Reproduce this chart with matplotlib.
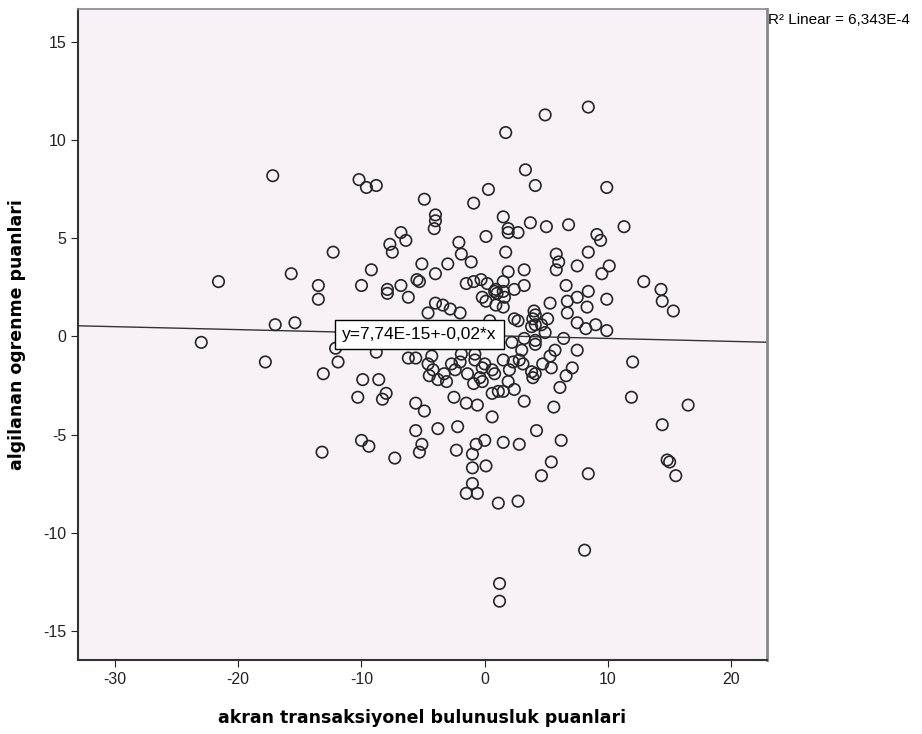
import matplotlib
matplotlib.use('Agg')
import matplotlib.pyplot as plt
import numpy as np

plt.rcParams['font.family'] = ['Liberation Sans', 'DejaVu Sans']
plt.rcParams['axes.unicode_minus'] = False

# akran transaksiyonel bulunusluk puanlari (x)
akran = [8.4, 4.9, 1.7, 3.3, 4.1, 0.3, -0.9, -4.9, -10.2, -9.6, -8.8, -17.2, 9.9,
         -4.0, -4.0, -4.1, 1.5, 1.9, 1.9, 2.7, 3.7, 0.1, -2.1, -1.9, -1.1, 1.7, 1.9, 3.2,
         -6.8, -6.4, -7.7, -7.5, -12.3, -9.2, -5.1, -3.0, -4.0, -5.5, -5.3, -1.5, -0.9,
         -0.3, 1.5, -13.5, -10.0, -6.8, 3.2, 0.9, 2.4, -7.9, 5.0, 6.8, 9.1, 9.4, 11.3,
         5.8, 6.0, 5.8, 7.5, 8.4, 10.1, 9.5, 12.9, 14.3, 6.6, 8.4, -21.6, -15.7, -17.0,
         -15.4, -23.0, -17.8,
         7.5, 9.9, 6.7, 5.3, 8.3, 6.7, 5.1, 7.5, 8.2, 9.0, 9.9, 4.9, 6.4, 4.1, 4.1, 14.4,
         15.3, 7.5, 5.7, 5.3, 4.7, 5.4, 7.1, 6.6, 6.1, 12.0, 11.9, 16.5, 5.6, 14.4, 4.2,
         6.2, 4.1,
         5.4, 4.6, 8.4, 14.8, 15.0, 15.5, 8.1,
         -13.2, -10.0, -9.4, -7.3, -5.1, -5.3, -2.3, -0.7, 0.0, 1.5, 2.8, -1.0, -1.0, 0.1,
         -1.0, -1.5, -0.6, 1.1, 2.7, 1.2, 1.2,
         -13.5, -7.9, -6.2, -4.0, -3.4, -2.8, -2.0, -4.6, -0.2, 0.1, 0.8, 1.5, 1.6, 1.5,
         0.9, 4.0, 2.7, 3.8, 3.2, 2.2, 0.4, -12.1, -11.9, -13.1, -8.8, -6.2, -5.6, -4.3,
         -4.6, -4.2, -4.5, -3.8, -3.1, -3.3, -2.7, -2.0, -1.4, -1.9, -0.8, -0.2, -0.2,
         -0.9, -0.8, 0.6, 0.8, 1.5, 2.3, 2.8, 3.1, 3.8, 3.9, 1.9, 0.6, 1.1, 1.5, 2.4, 3.2,
         -9.9, -8.6, -8.0, -8.3, -10.3, -5.6, -4.9, -2.5, -1.5, -0.6, 0.6, -5.6, -3.8,
         -2.2,
         0.2, 1.0, 3.9, 4.6, 2.4, 4.1, -2.4, 0.0, -0.4, 3.0, 4.1, 2.0]

# algilanan ogrenme puanlari (y)
ogrenme = [11.7, 11.3, 10.4, 8.5, 7.7, 7.5, 6.8, 7.0, 8.0, 7.6, 7.7, 8.2, 7.6,
           6.2, 5.9, 5.5, 6.1, 5.5, 5.3, 5.3, 5.8, 5.1, 4.8, 4.2, 3.8, 4.3, 3.3, 3.4,
           5.3, 4.9, 4.7, 4.3, 4.3, 3.4, 3.7, 3.7, 3.2, 2.9, 2.8, 2.7, 2.8,
           2.9, 2.8, 2.6, 2.6, 2.6, 2.6, 2.4, 2.4, 2.4, 5.6, 5.7, 5.2, 4.9, 5.6,
           4.2, 3.8, 3.4, 3.6, 4.3, 3.6, 3.2, 2.8, 2.4, 2.6, 2.3, 2.8, 3.2, 0.6,
           0.7, -0.3, -1.3,
           2.0, 1.9, 1.8, 1.7, 1.5, 1.2, 0.9, 0.7, 0.4, 0.6, 0.3, 0.2, -0.1, 0.6, 1.1, 1.8,
           1.3, -0.7, -0.7, -1.0, -1.4, -1.6, -1.6, -2.0, -2.6, -1.3, -3.1, -3.5, -3.6, -4.5,
           -4.8, -5.3, -1.9,
           -6.4, -7.1, -7.0, -6.3, -6.4, -7.1, -10.9,
           -5.9, -5.3, -5.6, -6.2, -5.5, -5.9, -5.8, -5.5, -5.3, -5.4, -5.5, -6.0, -6.7,
           -6.6, -7.5, -8.0, -8.0, -8.5, -8.4, -12.6, -13.5,
           1.9, 2.2, 2.0, 1.7, 1.6, 1.4, 1.2, 1.2, 2.0, 1.8, 2.3, 2.3, 2.0, 1.5,
           1.6, 1.3, 0.8, 0.5, -0.1, -0.3, 0.8, -0.6, -1.3, -1.9, -0.8, -1.1, -1.1, -1.0,
           -1.4, -1.7, -2.0, -2.2, -2.3, -1.9, -1.4, -1.3, -1.9, -0.9, -0.9, -1.6, -2.3,
           -2.4, -1.2, -1.7, -1.9, -1.2, -1.3, -1.2, -1.4, -1.8, -2.1, -2.3, -2.9, -2.8,
           -2.8, -2.7, -3.3,
           -2.2, -2.2, -2.9, -3.2, -3.1, -3.4, -3.8, -3.1, -3.4, -3.5, -4.1, -4.8, -4.7,
           -4.6,
           2.7, 2.2, 0.9, 0.6, 0.9, -0.2, -1.7, -1.4, -2.1, -0.7, -0.4, -1.7]

# fit line as drawn in the chart
intercept = 0.05
slope = -0.015
fit_label = 'y=7,74E-15+-0,02*x'
r2_label = 'R² Linear = 6,343E-4'

x_ticks = [-30, -20, -10, 0, 10, 20]
y_ticks = [-15, -10, -5, 0, 5, 10, 15]

fig = plt.figure(figsize=(9.22, 7.34), dpi=100)
ax = fig.add_axes([0.0846, 0.1008, 0.7473, 0.8869])
ax.set_facecolor('#f6f2f6')

ax.scatter(akran, ogrenme, s=68, facecolors='none', edgecolors='#262626', linewidths=1.2, zorder=3)

xl = np.array([-33.0, 22.9])
ax.plot(xl, intercept + slope * xl, color='#333333', lw=1.0, zorder=2)

ax.text(-5.3, 0.1, fit_label, fontsize=12.5, ha='center', va='center', zorder=4,
        bbox=dict(boxstyle='square,pad=0.4', facecolor='white', edgecolor='black', lw=1))

ax.set_xlim(-33.0, 22.9)
ax.set_ylim(-16.5, 16.7)
ax.set_xticks(x_ticks)
ax.set_yticks(y_ticks)
ax.tick_params(direction='out', length=5, labelsize=11.5, colors='#222222')

ax.spines['left'].set_color('#333333')
ax.spines['left'].set_linewidth(1.5)
ax.spines['bottom'].set_color('#333333')
ax.spines['bottom'].set_linewidth(1.5)
ax.spines['right'].set_color('#888888')
ax.spines['right'].set_linewidth(2)
ax.spines['top'].set_color('#888888')
ax.spines['top'].set_linewidth(1.2)

ax.set_xlabel('akran transaksiyonel bulunusluk puanlari', fontsize=12.5, fontweight='bold',
              family='DejaVu Sans', labelpad=16)
ax.set_ylabel('algilanan ogrenme puanlari', fontsize=12.5, fontweight='bold',
              family='DejaVu Sans', labelpad=12)

fig.text(768 / 922, 1 - 20 / 734, r2_label, fontsize=11, ha='left', va='center')

plt.savefig('out.png', dpi=100)
